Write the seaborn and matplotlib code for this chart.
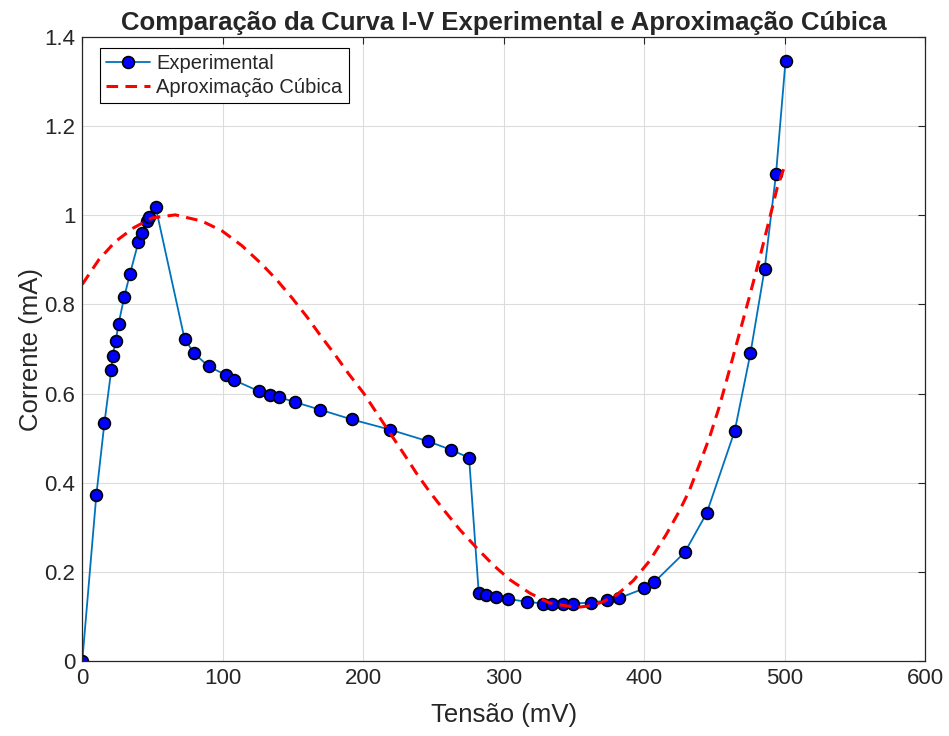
import numpy as np
import pandas as pd
import matplotlib
matplotlib.use("Agg")
import matplotlib.pyplot as plt
from matplotlib.ticker import FuncFormatter
import seaborn as sns

tensao_exp = [0, 10.0, 15.8, 20.6, 21.6, 23.9, 25.8, 29.9, 33.9, 39.9, 42.7, 46.0,
              47.4, 52.2, 72.8, 79.7, 90.0, 102.0, 108.2, 126.0, 134.0, 140.2,
              151.2, 169.2, 191.9, 219.2, 246.2, 262.4, 275.4, 282.3, 287.6,
              294.4, 303.4, 316.3, 328.3, 334.7, 342.4, 349.7, 362.5, 373.5,
              382.2, 400.2, 407.3, 429.0, 444.6, 464.6, 475.7, 485.8, 493.9, 500.7]
corrente_exp = [0, 0.372, 0.535, 0.652, 0.685, 0.719, 0.756, 0.817, 0.868, 0.939,
                0.961, 0.987, 0.997, 1.019, 0.723, 0.690, 0.661, 0.642, 0.630,
                0.605, 0.597, 0.592, 0.581, 0.564, 0.542, 0.519, 0.493, 0.474,
                0.456, 0.152, 0.149, 0.144, 0.139, 0.133, 0.129, 0.129, 0.129,
                0.129, 0.131, 0.136, 0.141, 0.163, 0.177, 0.244, 0.332, 0.517,
                0.690, 0.879, 1.092, 1.346]

# Cubic approximation curve (samples)
tensao_cub = [0, 11.7, 23.5, 36.6, 49.6, 66.2, 85.2, 99.5, 113.6, 127.6, 138.5,
              149.5, 160.0, 169.4, 180.0, 189.5, 200.3, 209.3, 219.2, 228.7,
              238.2, 247.7, 258.4, 269.0, 281.0, 292.7, 304.6, 318.8, 332.8,
              351.7, 361.6, 370.0, 380.4, 392.2, 404.0, 415.8, 425.2, 432.3,
              439.4, 446.5, 453.5, 460.6, 467.7, 474.8, 481.8, 488.9, 494.8, 500.0]
corrente_cub = [0.845, 0.900, 0.941, 0.972, 0.994, 1.001, 0.987, 0.965, 0.932,
                0.891, 0.855, 0.814, 0.772, 0.731, 0.687, 0.645, 0.601, 0.558,
                0.511, 0.466, 0.420, 0.378, 0.335, 0.294, 0.253, 0.215, 0.182,
                0.152, 0.130, 0.120, 0.124, 0.132, 0.148, 0.180, 0.225, 0.284,
                0.337, 0.383, 0.441, 0.501, 0.570, 0.651, 0.733, 0.815, 0.898,
                0.987, 1.062, 1.110]

df_exp = pd.DataFrame({"Tensão": tensao_exp, "Corrente": corrente_exp})
df_cub = pd.DataFrame({"Tensão": tensao_cub, "Corrente": corrente_cub})

sns.set_style("white")
plt.rcParams["font.family"] = ["Liberation Sans", "DejaVu Sans"]

fig = plt.figure(figsize=(9.49, 7.36), dpi=100)
ax = fig.add_axes([0.0867, 0.1019, 0.8880, 0.8478])

sns.lineplot(data=df_exp, x="Tensão", y="Corrente", ax=ax, estimator=None,
             sort=False, color="#0072BD", linewidth=1.3, marker="o",
             markersize=8.5, markerfacecolor="#0000FF", markeredgecolor="black",
             markeredgewidth=1.2, label="Experimental")
sns.lineplot(data=df_cub, x="Tensão", y="Corrente", ax=ax, estimator=None,
             sort=False, color="#FF0000", linewidth=2.2,
             linestyle=(0, (3.8, 2.4)), label="Aproximação Cúbica")

ax.set_xlim(0, 600)
ax.set_ylim(0, 1.4)
ax.set_xticks(np.arange(0, 601, 100))
ax.set_yticks(np.arange(0, 1.41, 0.2))
fmt = FuncFormatter(lambda v, p: f"{v:g}")
ax.xaxis.set_major_formatter(fmt)
ax.yaxis.set_major_formatter(fmt)

ax.grid(True, color="#dcdcdc", linewidth=0.8)
ax.set_axisbelow(True)
for s in ax.spines.values():
    s.set_visible(True)
    s.set_color("#262626")
    s.set_linewidth(0.9)
ax.tick_params(direction="in", length=5, width=0.8, top=True, right=True,
               labelsize=16, colors="#262626", pad=5)

ax.set_xlabel("Tensão (mV)", fontsize=18.5, color="#262626", labelpad=10)
ax.set_ylabel("Corrente (mA)", fontsize=18.5, color="#262626", labelpad=1)
ax.set_title("Comparação da Curva I-V Experimental e Aproximação Cúbica",
             fontsize=18.5, fontweight="bold", pad=5)

leg = ax.legend(loc="upper left", fontsize=14.5, frameon=True, fancybox=False,
                framealpha=1, edgecolor="black", borderpad=0.3,
                handlelength=2.2, handletextpad=0.3, labelspacing=0.25,
                borderaxespad=0.0, bbox_to_anchor=(0.021, 0.983))
leg.get_frame().set_linewidth(0.8)

fig.savefig("out.png", dpi=100)
